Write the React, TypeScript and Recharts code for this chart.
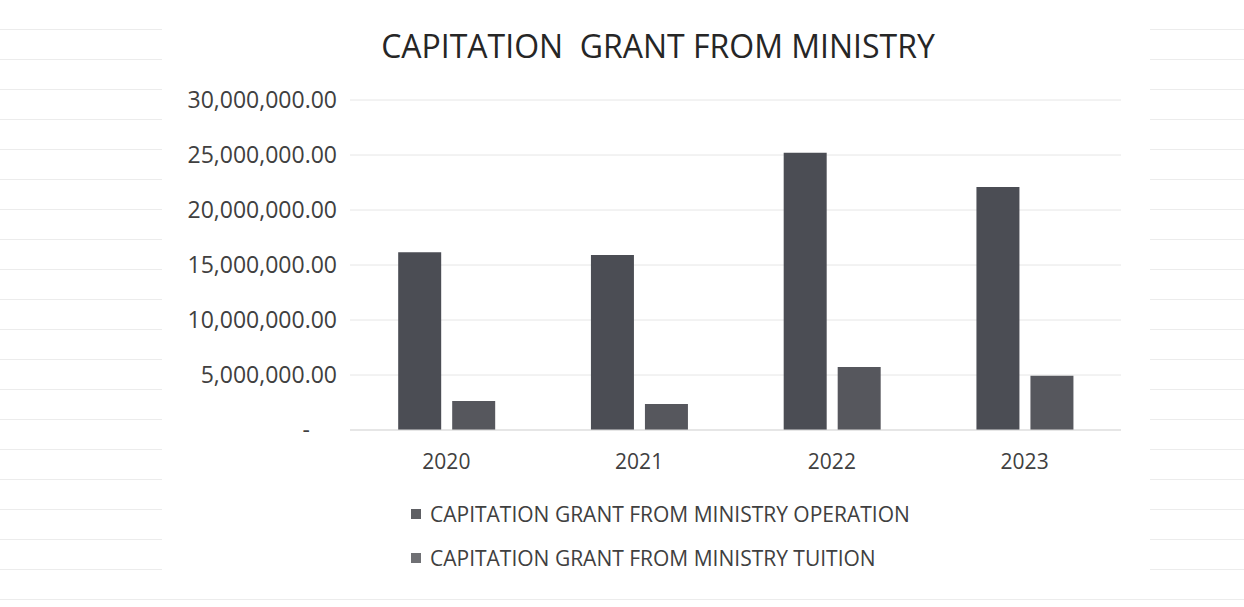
import React from "react";
import { BarChart, Bar, XAxis, YAxis, CartesianGrid } from "recharts";

const years = ["2020", "2021", "2022", "2023"];
const operation = [16150000, 15900000, 25200000, 22100000];
const tuition = [2640000, 2360000, 5730000, 4940000];
const yTicks = [0, 5000000, 10000000, 15000000, 20000000, 25000000, 30000000];

const SERIES = [
  { key: "operation", name: "CAPITATION GRANT FROM MINISTRY OPERATION", color: "#4b4d54", swatch: "#5e5f63" },
  { key: "tuition", name: "CAPITATION GRANT FROM MINISTRY TUITION", color: "#56575d", swatch: "#6f7074" },
];

const data = years.map((year, i) => ({
  year,
  operation: operation[i],
  tuition: tuition[i],
}));

const FONT = "'Open Sans', sans-serif";

const YTick = (props: any) => {
  const { x, y, payload } = props;
  const v = payload.value as number;
  if (v === 0) {
    return (
      <text x={x - 27} y={y} dy="0.36em" textAnchor="end" fontSize={23} fill="#404040" fontFamily={FONT}>
        -
      </text>
    );
  }
  const label = v.toLocaleString("en-US", { minimumFractionDigits: 2, maximumFractionDigits: 2 });
  return (
    <text x={x} y={y} dy="0.36em" textAnchor="end" fontSize={23} fill="#404040" fontFamily={FONT}>
      {label}
    </text>
  );
};

const App: React.FC = () => {
  return (
    <div
      style={{
        position: "absolute",
        left: 0,
        top: 0,
        width: 1244,
        height: 607,
        backgroundColor: "#ffffff",
        backgroundImage:
          "repeating-linear-gradient(to bottom, transparent 0px, transparent 29px, #ececec 29px, #ececec 30px)",
        overflow: "hidden",
      }}
    >
      <div
        style={{
          position: "absolute",
          left: 162,
          top: 0,
          width: 988,
          height: 592,
          background: "#ffffff",
        }}
      />
      <div
        style={{
          position: "absolute",
          left: 0,
          top: 24,
          width: 1316,
          textAlign: "center",
          fontFamily: FONT,
          fontSize: 32,
          color: "#262626",
          whiteSpace: "pre",
        }}
      >
        {"CAPITATION  GRANT FROM MINISTRY"}
      </div>
      <div style={{ position: "absolute", left: 0, top: 0 }}>
        <BarChart
          width={1244}
          height={607}
          data={data}
          margin={{ top: 100, right: 123, bottom: 0, left: 0 }}
          barCategoryGap="25%"
          barGap={11}
        >
          <CartesianGrid vertical={false} stroke="#e6e6e6" />
          <XAxis
            dataKey="year"
            axisLine={{ stroke: "#d9d9d9" }}
            tickLine={false}
            tickMargin={18}
            height={177}
            tick={{ fontSize: 21, fill: "#404040", fontFamily: FONT }}
          />
          <YAxis
            width={350}
            domain={[0, 30000000]}
            ticks={yTicks}
            axisLine={false}
            tickLine={false}
            tickMargin={7}
            tick={<YTick />}
          />
          {SERIES.map((s) => (
            <Bar key={s.key} dataKey={s.key} name={s.name} fill={s.color} isAnimationActive={false} />
          ))}
        </BarChart>
      </div>
      <div
        style={{
          position: "absolute",
          left: 411,
          top: 492,
          fontFamily: FONT,
          fontSize: 21,
          color: "#404040",
        }}
      >
        {SERIES.map((s) => (
          <div key={s.key} style={{ display: "flex", alignItems: "center", height: 44, whiteSpace: "nowrap" }}>
            <span style={{ display: "inline-block", width: 10, height: 10, background: s.swatch, marginRight: 9 }} />
            <span>{s.name}</span>
          </div>
        ))}
      </div>
    </div>
  );
};

export default App;
